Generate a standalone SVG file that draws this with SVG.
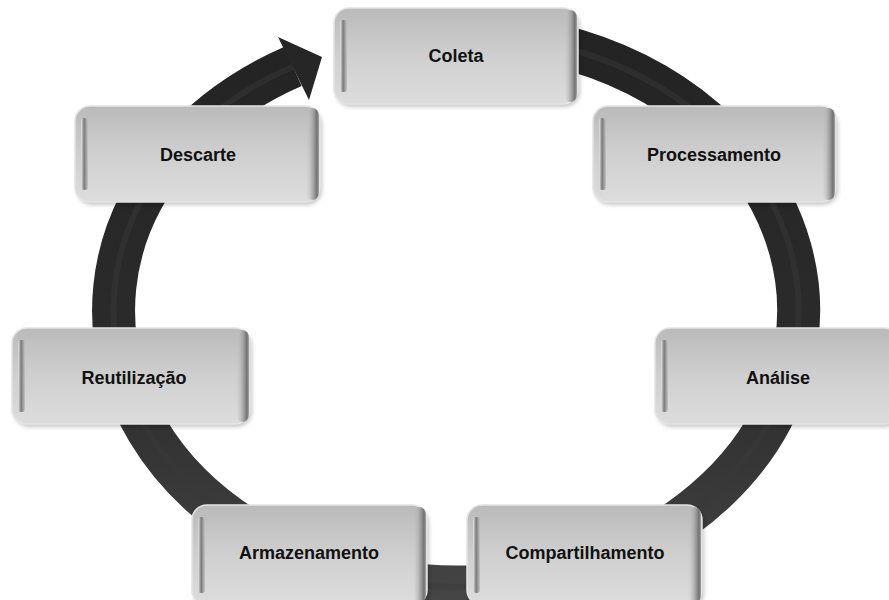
<svg xmlns="http://www.w3.org/2000/svg" width="889" height="600" viewBox="0 0 889 600">
  <defs>
    <linearGradient id="ringGrad" gradientUnits="userSpaceOnUse" x1="0" y1="30" x2="0" y2="600">
      <stop offset="0" stop-color="#232323"/>
      <stop offset="0.6" stop-color="#2c2c2c"/>
      <stop offset="1" stop-color="#454545"/>
    </linearGradient>
    <linearGradient id="boxFill" x1="0" y1="0" x2="0" y2="1">
      <stop offset="0" stop-color="#bababa"/>
      <stop offset="0.5" stop-color="#cfcfcf"/>
      <stop offset="1" stop-color="#dddddd"/>
    </linearGradient>
    <linearGradient id="leftBevel" x1="0" y1="0" x2="1" y2="0">
      <stop offset="0" stop-color="#e6e6e6"/>
      <stop offset="0.45" stop-color="#7a7a7a"/>
      <stop offset="1" stop-color="#c4c4c4"/>
    </linearGradient>
    <linearGradient id="rightBevel" x1="0" y1="0" x2="1" y2="0">
      <stop offset="0" stop-color="#c8c8c8" stop-opacity="0"/>
      <stop offset="0.55" stop-color="#9a9a9a" stop-opacity="0.8"/>
      <stop offset="0.85" stop-color="#707070"/>
      <stop offset="1" stop-color="#a8a8a8"/>
    </linearGradient>
    <filter id="soft" x="-10%" y="-10%" width="120%" height="130%">
      <feGaussianBlur stdDeviation="2"/>
    </filter>
    <style>
      .ring { fill: none; stroke: url(#ringGrad); stroke-width: 43; }
      .ringHi { fill: none; stroke: #3a3a3a; stroke-width: 6; opacity: 0.45; }
      .arrow { fill: #262626; }
      .shadow { fill: #000; opacity: 0.22; filter: url(#soft); }
      .box { fill: url(#boxFill); stroke: #e4e4e4; stroke-width: 1.5; }
      .lb { fill: url(#leftBevel); }
      .rb { fill: url(#rightBevel); }
      .label { font-family: "Liberation Sans", Arial, sans-serif; font-weight: bold; font-size: 18px; fill: #111; text-anchor: middle; }
    </style>
  </defs>

  <rect width="889" height="600" fill="#ffffff"/>

  <g id="connectors">
    <path class="ring" d="M 396.5 37.2 A 342.5 277 0 1 1 293 66.4"/>
    <path class="ringHi" d="M 396.5 37.2 A 342.5 277 0 1 1 293 66.4"/>
    <polygon class="arrow" points="278,37 322,57 309,100"/>
  </g>

  <g id="node-coleta">
    <rect class="shadow" x="336" y="11" width="244" height="96" rx="15"/>
    <rect class="box" x="334" y="8" width="244" height="96" rx="15"/>
    <rect class="lb" x="340" y="20" width="7" height="72" rx="3"/>
    <rect class="rb" x="564" y="10" width="13" height="92" rx="8"/>
    <text class="label" x="456" y="62">Coleta</text>
  </g>

  <g id="node-processamento">
    <rect class="shadow" x="595" y="109" width="243" height="96" rx="15"/>
    <rect class="box" x="593" y="106" width="243" height="96" rx="15"/>
    <rect class="lb" x="599" y="118" width="7" height="72" rx="3"/>
    <rect class="rb" x="822" y="108" width="13" height="92" rx="8"/>
    <text class="label" x="714" y="161">Processamento</text>
  </g>

  <g id="node-descarte">
    <rect class="shadow" x="77" y="109" width="245" height="96" rx="15"/>
    <rect class="box" x="75" y="106" width="245" height="96" rx="15"/>
    <rect class="lb" x="81" y="118" width="7" height="72" rx="3"/>
    <rect class="rb" x="306" y="108" width="13" height="92" rx="8"/>
    <text class="label" x="198" y="161">Descarte</text>
  </g>

  <g id="node-reutilizacao">
    <rect class="shadow" x="14" y="331" width="238" height="96" rx="15"/>
    <rect class="box" x="12" y="328" width="238" height="96" rx="15"/>
    <rect class="lb" x="18" y="340" width="7" height="72" rx="3"/>
    <rect class="rb" x="236" y="330" width="13" height="92" rx="8"/>
    <text class="label" x="134" y="384">Reutilização</text>
  </g>

  <g id="node-analise">
    <rect class="shadow" x="657" y="331" width="244" height="96" rx="15"/>
    <rect class="box" x="655" y="328" width="244" height="96" rx="15"/>
    <rect class="lb" x="661" y="340" width="7" height="72" rx="3"/>
    <text class="label" x="778" y="384">Análise</text>
  </g>

  <g id="node-armazenamento">
    <rect class="shadow" x="194" y="508" width="235" height="100" rx="15"/>
    <rect class="box" x="192" y="505" width="235" height="100" rx="15"/>
    <rect class="lb" x="198" y="517" width="7" height="76" rx="3"/>
    <rect class="rb" x="413" y="507" width="13" height="96" rx="8"/>
    <text class="label" x="309" y="559">Armazenamento</text>
  </g>

  <g id="node-compartilhamento">
    <rect class="shadow" x="469" y="508" width="235" height="100" rx="15"/>
    <rect class="box" x="467" y="505" width="235" height="100" rx="15"/>
    <rect class="lb" x="473" y="517" width="7" height="76" rx="3"/>
    <rect class="rb" x="688" y="507" width="13" height="96" rx="8"/>
    <text class="label" x="585" y="559">Compartilhamento</text>
  </g>
</svg>
